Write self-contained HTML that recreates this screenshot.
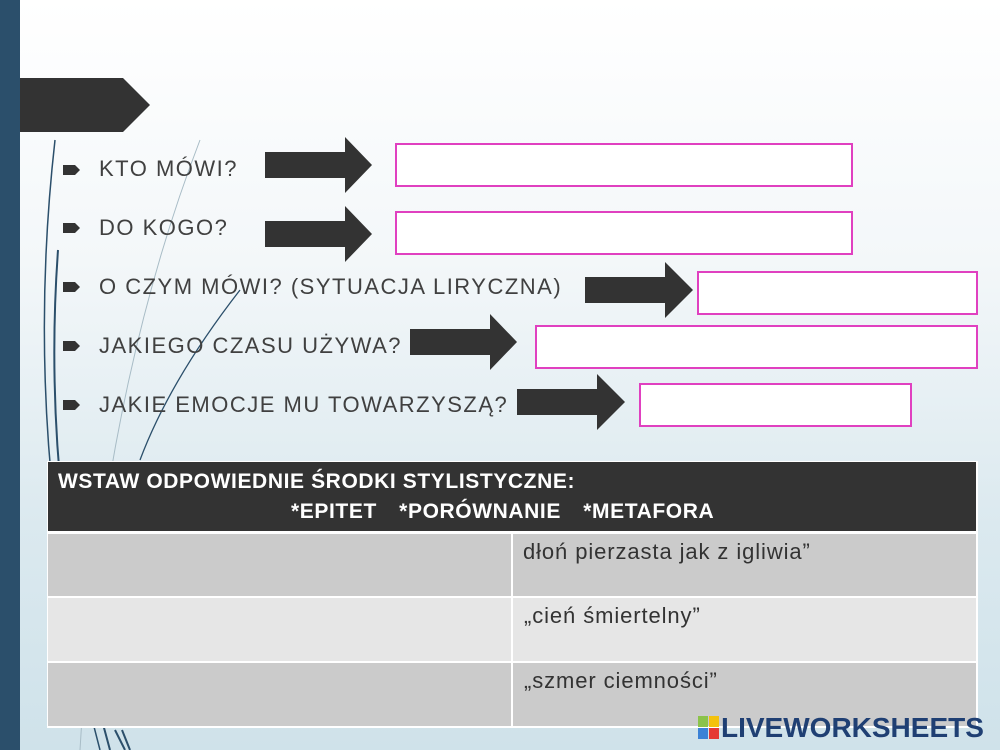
<!DOCTYPE html>
<html><head><meta charset="utf-8"><style>
*{margin:0;padding:0;box-sizing:border-box}
body{width:1000px;height:750px;overflow:hidden;position:relative;font-family:"Liberation Sans",sans-serif;background:linear-gradient(180deg,#ffffff 0%,#f3f7f9 35%,#dbe9ef 70%,#cfe2ea 100%)}
.abs{position:absolute}
.q{position:absolute;left:99px;font-size:22px;color:#404040;letter-spacing:1.5px;white-space:nowrap}
.box{position:absolute;border:2px solid #e040c0;background:#fff}
.c{font-size:22px;color:#333;padding:5px 10px;letter-spacing:0.9px}
</style></head><body>
<svg class="abs" style="left:0;top:0" width="1000" height="750">
<path d="M58 250 Q40 500 110 750" stroke="#2b4f6b" stroke-width="2" fill="none"/>
<path d="M55 140 Q20 450 100 750" stroke="#2b4f6b" stroke-width="1.5" fill="none"/>
<path d="M200 140 Q100 400 80 750" stroke="#a8bcc6" stroke-width="1" fill="none"/>
<path d="M240 290 Q170 380 140 460" stroke="#2b4f6b" stroke-width="1.3" fill="none"/>
<path d="M115 730 L125 750 M122 730 L130 750" stroke="#2b4f6b" stroke-width="2"/>
<g fill="#333">
<polygon points="265,152 345,152 345,137 372,165 345,193 345,178 265,178"/>
<polygon points="265,221 345,221 345,206 372,234 345,262 345,247 265,247"/>
<polygon points="585,277 665,277 665,262 693,290 665,318 665,303 585,303"/>
<polygon points="410,329 490,329 490,314 517,342 490,370 490,355 410,355"/>
<polygon points="517,389 597,389 597,374 625,402 597,430 597,415 517,415"/>
<polygon points="0,78 123,78 150,105 123,132 0,132"/>
</g>
<g fill="#333">
<polygon points="63,165 75,165 80,170 75,175 63,175"/>
<polygon points="63,223 75,223 80,228 75,233 63,233"/>
<polygon points="63,282 75,282 80,287 75,292 63,292"/>
<polygon points="63,341 75,341 80,346 75,351 63,351"/>
<polygon points="63,400 75,400 80,405 75,410 63,410"/>
</g>
</svg>
<div class="abs" style="left:0;top:0;width:20px;height:750px;background:#2b4f6b"></div>
<div class="q" style="top:156px">KTO MÓWI?</div>
<div class="q" style="top:215px">DO KOGO?</div>
<div class="q" style="top:274px">O CZYM MÓWI? (SYTUACJA LIRYCZNA)</div>
<div class="q" style="top:333px">JAKIEGO CZASU UŻYWA?</div>
<div class="q" style="top:392px">JAKIE EMOCJE MU TOWARZYSZĄ?</div>
<div class="box" style="left:395px;top:143px;width:458px;height:44px"></div>
<div class="box" style="left:395px;top:211px;width:458px;height:44px"></div>
<div class="box" style="left:697px;top:271px;width:281px;height:44px"></div>
<div class="box" style="left:535px;top:325px;width:443px;height:44px"></div>
<div class="box" style="left:639px;top:383px;width:273px;height:44px"></div>
<div class="abs" style="left:47px;top:461px;width:931px;height:267px;background:#fff"></div>
<div class="abs" style="left:48px;top:462px;width:928px;height:69px;background:#333;color:#fff;font-weight:bold;font-size:21px;line-height:30px;padding:5px 10px;white-space:nowrap">
<div style="letter-spacing:0.6px">WSTAW ODPOWIEDNIE ŚRODKI STYLISTYCZNE:</div>
<div style="padding-left:233px;letter-spacing:0.6px;word-spacing:1px">*EPITET &nbsp; *PORÓWNANIE &nbsp; *METAFORA</div></div>
<div class="abs" style="left:48px;top:534px;width:463px;height:62px;background:#cbcbcb"></div>
<div class="abs c" style="left:513px;top:534px;width:463px;height:62px;background:#cbcbcb">dłoń pierzasta jak z igliwia”</div>
<div class="abs" style="left:48px;top:598px;width:463px;height:63px;background:#e6e6e6"></div>
<div class="abs c" style="left:513px;top:598px;width:463px;height:63px;background:#e6e6e6;padding-left:11px">„cień śmiertelny”</div>
<div class="abs" style="left:48px;top:663px;width:463px;height:63px;background:#cbcbcb"></div>
<div class="abs c" style="left:513px;top:663px;width:463px;height:63px;background:#cbcbcb;padding-left:11px">„szmer ciemności”</div>
<div class="abs" style="left:698px;top:716px;width:22px;height:24px">
<div class="abs" style="left:0;top:0;width:10px;height:11px;background:#8bc34a"></div>
<div class="abs" style="left:11px;top:0;width:10px;height:11px;background:#f4c20d"></div>
<div class="abs" style="left:0;top:12px;width:10px;height:11px;background:#3b82d6"></div>
<div class="abs" style="left:11px;top:12px;width:10px;height:11px;background:#e53935"></div>
</div>
<div class="abs" style="left:721px;top:712px;font-size:28px;font-weight:bold;color:#1f3f73;letter-spacing:0px">LIVEWORKSHEETS</div>
</body></html>
